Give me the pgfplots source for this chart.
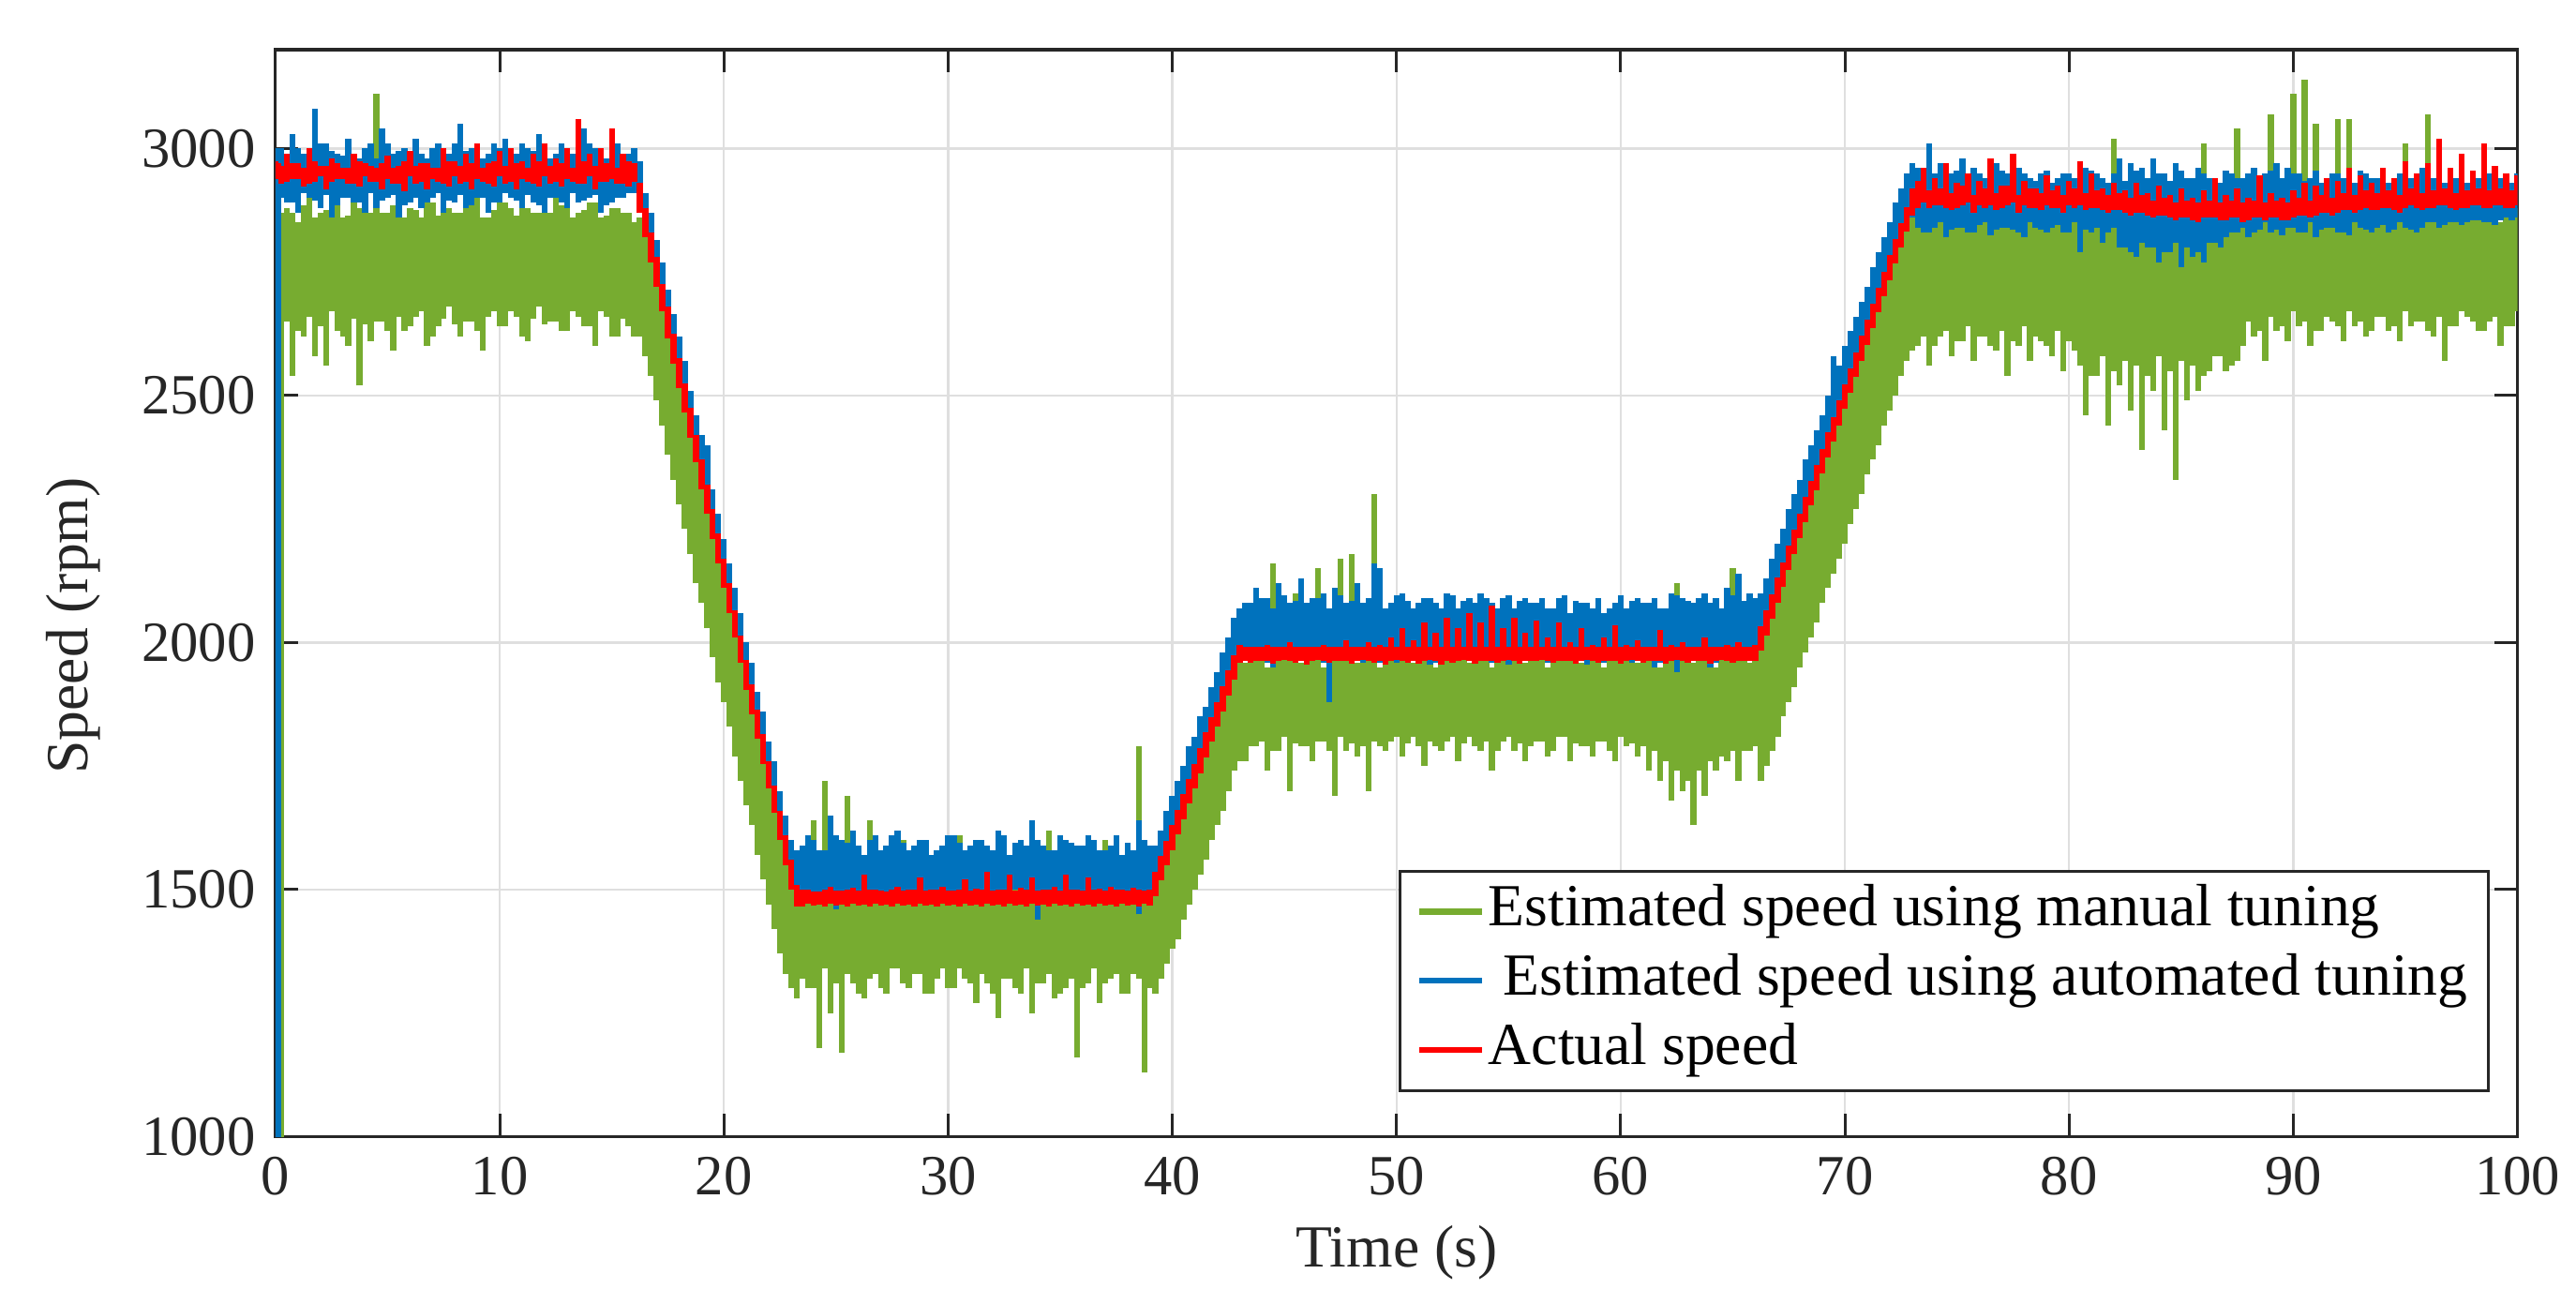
\documentclass[border=0pt]{standalone}
\usepackage{fontspec}
\setmainfont{Liberation Serif}
\usepackage{pgfplots}
\usepackage{pgfplotstable}
\pgfplotsset{compat=1.18}
\definecolor{mgreen}{RGB}{119,172,48}
\definecolor{mblue}{RGB}{0,114,189}
\definecolor{mred}{RGB}{255,0,0}
\definecolor{axgray}{RGB}{38,38,38}
\definecolor{gridgray}{RGB}{223,223,223}

% per 0.25 s bin: lowest and highest value of each signal (gl/gh manual, bl/bh automated, rl/rh actual)
\pgfplotstableread{
t gl gh bl bh rl rh
0 900 900 900 3000 2940 2975
0.12 900 900 900 2950 2938 2970
0.25 900 2870 2900 3000 2928 2965
0.5 2650 2880 2890 2990 2933 2990
0.75 2540 2870 2890 3030 2938 2970
1 2630 2850 2870 3000 2938 2970
1.25 2620 2885 2910 2990 2923 2960
1.5 2660 2900 2900 2980 2928 3000
1.75 2580 2860 2895 3080 2933 2975
2 2640 2870 2880 3010 2943 2965
2.25 2560 2875 2905 3010 2918 2965
2.5 2670 2890 2860 2995 2933 2980
2.75 2630 2890 2885 2990 2938 2970
3 2620 2860 2900 2985 2938 2960
3.25 2600 2865 2900 3020 2928 2960
3.5 2655 2910 2890 2990 2928 2990
3.75 2520 2880 2890 2980 2923 2975
4 2645 2880 2870 3000 2943 2970
4.25 2610 2870 2910 3010 2933 2965
4.5 2650 3110 2880 2980 2933 2960
4.75 2650 2870 2895 3040 2918 2970
5 2630 2870 2900 3010 2938 2985
5.25 2590 2885 2905 2990 2928 2960
5.5 2660 2900 2860 2995 2928 2965
5.75 2630 2860 2885 3000 2913 2975
6 2640 2880 2890 2985 2943 2995
6.25 2660 2875 2900 3020 2928 2965
6.5 2670 2860 2880 2990 2933 2970
6.75 2600 2890 2890 2980 2918 2970
7 2620 2890 2900 3000 2938 2960
7.25 2640 2865 2910 3010 2933 2960
7.5 2655 2910 2870 2980 2928 3000
7.75 2680 2880 2895 2990 2923 2975
8 2645 2870 2890 3010 2943 2975
8.25 2620 2870 2905 3050 2928 2965
8.5 2650 2880 2880 2995 2933 2990
8.75 2650 2885 2885 3000 2918 2970
9 2630 2900 2900 2985 2938 3010
9.25 2590 2860 2900 2980 2933 2960
9.5 2660 2860 2870 2990 2928 2970
9.75 2670 2875 2890 3010 2923 2975
10 2640 2890 2890 3000 2943 2995
10.25 2640 2890 2910 3020 2928 2965
10.5 2670 2880 2900 2980 2933 3000
10.75 2660 2865 2895 2990 2918 2970
11 2620 2910 2880 3010 2938 2975
11.25 2610 2880 2905 3000 2933 2960
11.5 2655 2870 2890 2995 2928 2990
11.75 2680 2870 2885 3030 2923 2975
12 2645 2890 2870 2985 2943 3010
12.25 2650 2870 2900 2980 2928 2965
12.5 2650 2900 2900 2990 2933 2980
12.75 2630 2885 2890 3010 2923 2970
13 2630 2880 2880 3000 2938 3000
13.25 2670 2860 2910 2990 2933 2960
13.5 2660 2870 2890 2980 2928 3060
13.75 2640 2875 2895 3040 2928 2975
14 2640 2890 2900 3010 2943 2990
14.25 2600 2890 2905 3000 2918 2965
14.5 2670 2860 2870 2995 2933 3000
14.75 2660 2865 2885 2980 2933 2970
15 2620 2880 2890 2985 2938 3040
15.25 2620 2880 2900 3010 2928 2960
15.5 2655 2870 2900 2990 2928 2990
15.75 2640 2870 2910 2990 2923 2975
16 2620 2850 2910 3000 2933 2970
16.25 2620 2860 2885 2975 2870 2930
16.5 2580 2830 2835 2910 2820 2880
16.75 2540 2790 2785 2870 2770 2830
17 2490 2735 2735 2815 2720 2780
17.25 2440 2690 2680 2770 2670 2725
17.5 2380 2640 2630 2715 2615 2680
17.75 2330 2585 2580 2665 2565 2625
18 2280 2535 2530 2620 2515 2575
18.25 2230 2520 2480 2570 2465 2525
18.5 2180 2430 2430 2510 2415 2475
18.75 2120 2385 2380 2460 2365 2420
19 2080 2330 2325 2420 2310 2370
19.25 2030 2285 2275 2400 2260 2320
19.5 1970 2240 2225 2310 2210 2270
19.75 1920 2180 2175 2260 2160 2220
20 1880 2130 2125 2210 2110 2170
20.25 1830 2080 2075 2160 2060 2120
20.5 1770 2030 2025 2110 2010 2065
20.75 1720 1980 1975 2060 1960 2015
21 1670 1945 1920 2000 1905 1965
21.25 1630 1880 1870 1960 1855 1915
21.5 1570 1830 1820 1900 1805 1865
21.75 1520 1790 1770 1860 1755 1815
22 1470 1745 1720 1800 1705 1760
22.25 1420 1680 1670 1760 1655 1710
22.5 1370 1650 1615 1700 1600 1660
22.75 1330 1590 1565 1650 1550 1610
23 1300 1560 1515 1600 1500 1560
23.25 1280 1520 1470 1580 1466 1510
23.5 1320 1560 1480 1590 1465 1500
23.75 1300 1540 1485 1610 1472 1500
24 1300 1640 1470 1600 1467 1496
24.25 1180 1555 1480 1580 1470 1496
24.5 1340 1720 1490 1580 1465 1500
24.75 1250 1530 1490 1650 1472 1505
25 1310 1600 1460 1610 1467 1498
25.25 1170 1560 1475 1600 1470 1498
25.5 1330 1690 1480 1595 1465 1500
25.75 1310 1545 1485 1620 1472 1503
26 1290 1560 1490 1590 1467 1498
26.25 1280 1535 1480 1570 1470 1530
26.5 1320 1640 1470 1600 1465 1500
26.75 1330 1540 1490 1610 1472 1500
27 1300 1580 1485 1580 1467 1498
27.25 1290 1555 1475 1590 1470 1496
27.5 1340 1540 1500 1610 1465 1500
27.75 1340 1530 1485 1620 1472 1505
28 1310 1600 1480 1595 1467 1498
28.25 1300 1560 1480 1580 1470 1500
28.5 1330 1550 1490 1590 1465 1500
28.75 1330 1545 1490 1600 1472 1525
29 1290 1580 1475 1600 1467 1498
29.25 1290 1535 1475 1570 1470 1500
29.5 1320 1530 1495 1580 1465 1500
29.75 1340 1540 1485 1590 1472 1505
30 1300 1560 1480 1610 1467 1498
30.25 1300 1555 1480 1610 1470 1498
30.5 1340 1610 1490 1595 1465 1500
30.75 1320 1530 1490 1580 1472 1520
31 1310 1540 1485 1590 1467 1498
31.25 1270 1560 1475 1600 1470 1502
31.5 1330 1590 1470 1600 1465 1500
31.75 1310 1545 1485 1590 1472 1535
32 1290 1550 1490 1580 1467 1498
32.25 1240 1535 1480 1620 1470 1500
32.5 1320 1600 1480 1610 1465 1500
32.75 1320 1540 1490 1570 1472 1530
33 1300 1560 1500 1595 1467 1498
33.25 1290 1555 1485 1600 1470 1504
33.5 1340 1530 1485 1590 1465 1500
33.75 1250 1530 1480 1640 1472 1525
34 1310 1580 1440 1600 1467 1498
34.25 1310 1560 1480 1590 1470 1500
34.5 1330 1620 1490 1580 1465 1500
34.75 1280 1545 1490 1580 1472 1505
35 1290 1560 1480 1610 1467 1498
35.25 1300 1535 1475 1600 1470 1530
35.5 1320 1540 1495 1595 1465 1500
35.75 1160 1540 1485 1590 1472 1500
36 1300 1590 1470 1590 1467 1498
36.25 1310 1560 1480 1610 1470 1525
36.5 1340 1550 1490 1600 1465 1500
36.75 1270 1530 1490 1580 1472 1502
37 1310 1600 1485 1580 1467 1498
37.25 1320 1555 1475 1590 1470 1505
37.5 1330 1560 1480 1610 1465 1500
37.75 1290 1545 1485 1570 1472 1500
38 1290 1580 1490 1595 1467 1498
38.25 1330 1535 1480 1580 1470 1504
38.5 1320 1790 1450 1640 1465 1500
38.75 1130 1540 1490 1600 1472 1498
39 1300 1560 1480 1590 1467 1500
39.25 1290 1500 1500 1590 1486 1536
39.5 1320 1530 1530 1620 1518 1568
39.75 1350 1560 1565 1660 1549 1599
40 1380 1600 1595 1690 1580 1630
40.25 1400 1625 1625 1720 1611 1661
40.5 1440 1660 1660 1750 1643 1693
40.75 1470 1690 1690 1790 1674 1724
41 1500 1720 1720 1810 1705 1755
41.25 1530 1750 1750 1850 1736 1786
41.5 1560 1790 1785 1870 1768 1818
41.75 1600 1820 1815 1910 1799 1849
42 1630 1870 1845 1940 1830 1880
42.25 1660 1880 1880 1980 1861 1911
42.5 1700 1960 1910 2010 1893 1943
42.75 1740 1940 1940 2050 1924 1974
43 1760 1970 1960 2070 1960 1995
43.25 1760 1960 1965 2080 1963 1992
43.5 1790 1980 1960 2080 1960 1992
43.75 1790 1975 1975 2110 1963 1992
44 1800 2000 1980 2090 1962 1992
44.25 1740 1950 1960 2090 1963 1995
44.5 1780 2160 1950 2070 1958 1992
44.75 1780 1985 1980 2120 1963 1992
45 1810 1990 1970 2095 1965 1992
45.25 1700 1965 1970 2080 1963 2000
45.5 1795 2100 1990 2085 1960 1992
45.75 1790 1960 1965 2130 1963 1992
46 1790 1970 1960 2080 1955 1992
46.25 1760 1975 1975 2090 1963 1992
46.5 1800 2150 1975 2090 1965 1992
46.75 1800 1950 1960 2100 1963 1995
47 1780 1990 1880 2070 1960 1992
47.25 1690 1985 1980 2110 1963 1992
47.5 1810 2170 1970 2095 1962 1992
47.75 1780 1965 1970 2080 1963 2005
48 1795 2180 1985 2085 1958 1992
48.25 1770 1960 1965 2120 1963 1992
48.5 1790 1990 1960 2080 1965 1992
48.75 1700 1975 1975 2090 1963 2000
49 1800 2300 1975 2160 1960 1992
49.25 1790 1950 1960 2150 1963 1995
49.5 1780 1980 1980 2070 1955 1992
49.75 1800 1985 1980 2080 1963 2010
50 1810 2010 1960 2095 1965 1992
50.25 1770 1965 1970 2100 1963 2030
50.5 1795 1990 1985 2085 1960 1992
50.75 1810 1960 1965 2070 1963 2005
51 1790 1980 1970 2080 1958 1992
51.25 1750 1975 1975 2090 1963 2040
51.5 1800 2000 1955 2090 1965 1992
51.75 1790 1950 1960 2080 1963 2020
52 1780 1970 1980 2070 1955 1992
52.25 1800 1985 1980 2100 1963 2050
52.5 1810 1990 1965 2095 1960 1992
52.75 1760 1965 1970 2070 1963 2030
53 1795 2000 1975 2085 1965 1992
53.25 1810 1960 1965 2090 1963 2060
53.5 1790 1980 1960 2080 1958 1992
53.75 1780 1975 1975 2100 1963 2040
54 1800 1990 1985 2090 1962 1992
54.25 1740 1950 1960 2080 1963 2075
54.5 1780 1970 1970 2070 1960 1992
54.75 1800 1985 1980 2090 1963 2030
55 1810 2010 1955 2095 1965 1992
55.25 1780 1965 1970 2070 1963 2050
55.5 1795 1990 1980 2085 1958 1992
55.75 1760 1960 1965 2090 1963 2020
56 1790 2020 1965 2080 1962 1992
56.25 1800 1975 1975 2080 1963 2045
56.5 1800 1980 1975 2090 1965 1992
56.75 1770 1950 1960 2070 1963 2010
57 1780 1990 1960 2070 1960 1992
57.25 1810 1985 1980 2090 1963 2040
57.5 1810 2000 1980 2095 1962 1992
57.75 1760 1965 1970 2060 1963 2000
58 1795 1980 1970 2085 1958 1992
58.25 1790 1960 1965 2080 1963 2030
58.5 1790 1990 1955 2080 1965 1992
58.75 1770 1975 1975 2070 1963 1995
59 1800 2000 1975 2090 1960 1992
59.25 1800 1950 1960 2060 1963 2010
59.5 1780 1980 1965 2070 1962 1992
59.75 1760 1985 1980 2080 1963 2035
60 1810 2010 1980 2095 1958 1992
60.25 1790 1965 1970 2070 1963 1995
60.5 1795 1990 1960 2085 1965 1992
60.75 1770 1960 1965 2090 1963 2005
61 1790 2000 1975 2080 1960 1992
61.25 1740 1975 1975 2080 1963 1992
61.5 1780 1980 1950 2090 1962 1992
61.75 1720 1950 1960 2070 1963 2025
62 1760 1990 1970 2070 1958 1992
62.25 1680 1965 1980 2100 1963 1995
62.5 1740 2120 1940 2095 1965 1992
62.75 1700 1985 1970 2090 1963 2000
63 1720 2060 1960 2085 1960 1992
63.25 1630 1960 1965 2080 1963 1992
63.5 1740 1990 1975 2090 1962 1992
63.75 1690 1975 1975 2100 1963 2010
64 1760 2000 1950 2080 1958 1992
64.25 1740 1950 1960 2090 1963 1992
64.5 1770 1980 1970 2070 1965 1992
64.75 1760 1985 1980 2110 1963 1995
65 1780 2150 1960 2095 1960 1992
65.25 1720 1965 1970 2140 1963 2000
65.5 1780 1990 1975 2085 1962 1992
65.75 1780 1960 1965 2100 1963 1992
66 1790 2000 1990 2090 1963 1995
66.25 1720 1990 2003 2100 1983 2033
66.5 1750 2025 2035 2130 2015 2065
66.75 1780 2060 2068 2170 2048 2098
67 1810 2090 2100 2200 2081 2131
67.25 1850 2130 2133 2230 2113 2163
67.5 1880 2160 2166 2270 2146 2196
67.75 1910 2190 2199 2300 2179 2229
68 1950 2220 2231 2330 2211 2261
68.25 1980 2330 2264 2370 2244 2294
68.5 2010 2290 2297 2400 2277 2327
68.75 2040 2320 2329 2430 2309 2359
69 2080 2350 2362 2460 2342 2392
69.25 2110 2385 2395 2500 2375 2425
69.5 2140 2420 2427 2580 2407 2457
69.75 2170 2450 2460 2560 2440 2490
70 2200 2560 2493 2600 2473 2523
70.25 2240 2515 2525 2630 2505 2555
70.5 2270 2550 2558 2660 2538 2588
70.75 2300 2580 2591 2690 2571 2621
71 2340 2610 2623 2720 2603 2653
71.25 2370 2645 2656 2760 2636 2686
71.5 2400 2680 2689 2790 2669 2719
71.75 2440 2710 2721 2820 2701 2751
72 2470 2745 2754 2850 2734 2784
72.25 2500 2775 2787 2890 2767 2817
72.5 2540 2810 2819 2920 2799 2849
72.75 2570 2845 2852 2950 2832 2882
73 2590 2870 2860 2970 2865 2920
73.25 2600 2860 2840 2960 2880 2935
73.5 2620 2870 2830 2940 2890 2960
73.75 2560 2875 2830 3010 2880 2915
74 2600 2880 2840 2950 2885 2940
74.25 2620 2850 2850 2970 2885 2920
74.5 2630 2860 2820 2935 2880 2970
74.75 2580 2880 2835 2950 2875 2910
75 2610 2890 2840 2955 2880 2930
75.25 2610 2865 2840 2980 2885 2925
75.5 2640 2870 2830 2940 2890 2950
75.75 2570 2860 2830 2960 2870 2905
76 2620 2880 2845 2950 2885 2935
76.25 2620 2875 2850 2940 2880 2920
76.5 2600 2860 2825 2935 2885 2980
76.75 2590 2850 2835 2970 2875 2910
77 2630 2890 2840 2955 2880 2925
77.25 2540 2880 2840 2950 2885 2925
77.5 2610 2870 2835 2940 2890 2990
77.75 2600 2865 2830 2960 2870 2905
78 2640 2880 2820 2950 2885 2935
78.25 2570 2860 2850 2940 2880 2920
78.5 2620 2860 2840 2935 2880 2920
78.75 2610 2875 2835 2950 2875 2910
79 2600 2890 2830 2955 2885 2945
79.25 2580 2850 2840 2930 2880 2915
79.5 2630 2870 2845 2940 2880 2925
79.75 2550 2880 2830 2950 2870 2905
80 2610 2880 2830 2950 2885 2935
80.25 2590 2865 2850 2940 2880 2920
80.5 2560 2870 2790 2935 2885 2975
80.75 2460 2860 2835 2960 2875 2910
81 2540 2890 2830 2955 2880 2950
81.25 2540 2875 2840 2950 2880 2915
81.5 2580 2860 2810 2940 2875 2920
81.75 2440 2850 2830 2930 2870 2905
82 2550 3020 2840 2950 2875 2930
82.25 2520 2880 2800 2980 2875 2910
82.5 2570 2870 2800 2935 2870 2915
82.75 2470 2865 2790 2970 2865 2900
83 2560 2880 2780 2955 2870 2930
83.25 2390 2860 2810 2960 2870 2905
83.5 2540 2860 2800 2940 2865 2910
83.75 2510 2875 2800 2980 2860 2895
84 2580 2890 2770 2950 2865 2925
84.25 2430 2850 2790 2950 2865 2900
84.5 2550 2870 2790 2935 2860 2905
84.75 2330 2880 2810 2970 2855 2890
85 2570 2880 2760 2955 2860 2920
85.25 2490 2865 2800 2940 2860 2895
85.5 2560 2860 2780 2940 2855 2900
85.75 2510 2860 2790 2960 2850 2890
86 2540 3010 2770 2950 2860 2915
86.25 2550 2875 2810 2940 2860 2895
86.5 2580 2870 2810 2935 2860 2940
86.75 2580 2850 2800 2930 2855 2890
87 2550 2890 2820 2955 2855 2905
87.25 2560 2880 2830 2950 2860 2895
87.5 2570 3040 2830 2940 2860 2920
87.75 2600 2865 2840 2940 2850 2890
88 2650 2880 2820 2950 2855 2900
88.25 2620 2860 2830 2960 2860 2895
88.5 2630 2900 2835 2935 2860 2945
88.75 2570 2875 2850 2950 2855 2890
89 2660 3070 2830 2955 2860 2910
89.25 2630 2850 2835 2970 2860 2895
89.5 2640 2890 2825 2940 2855 2900
89.75 2610 2880 2840 2960 2855 2890
90 2670 3110 2840 2950 2860 2915
90.25 2640 2865 2830 2950 2865 2900
90.5 2650 3140 2830 2935 2865 2930
90.75 2600 2860 2850 2940 2860 2895
91 2630 3050 2820 2955 2865 2925
91.25 2630 2875 2835 2930 2870 2905
91.5 2660 2880 2840 2940 2870 2940
91.75 2650 2850 2840 2950 2865 2900
92 2640 3060 2830 2950 2870 2935
92.25 2610 2880 2830 2940 2875 2910
92.5 2670 3060 2825 2935 2875 2960
92.75 2640 2865 2850 2930 2870 2905
93 2650 2890 2840 2955 2875 2945
93.25 2620 2860 2835 2950 2880 2915
93.5 2630 2900 2830 2940 2875 2930
93.75 2660 2875 2840 2940 2875 2910
94 2660 2880 2845 2950 2880 2960
94.25 2630 2850 2830 2930 2880 2915
94.5 2640 2890 2835 2935 2875 2940
94.75 2610 2880 2850 2950 2870 2905
95 2670 3010 2840 2955 2880 2975
95.25 2640 2865 2835 2940 2885 2920
95.5 2650 2900 2830 2940 2880 2950
95.75 2650 2860 2840 2960 2875 2910
96 2630 3070 2850 2950 2880 2970
96.25 2620 2875 2850 2940 2880 2915
96.5 2660 2890 2840 2935 2885 3020
96.75 2570 2850 2845 2930 2885 2920
97 2640 2900 2850 2955 2880 2960
97.25 2640 2880 2850 2940 2875 2910
97.5 2670 2880 2845 2940 2880 2990
97.75 2660 2865 2850 2930 2880 2915
98 2650 2900 2855 2950 2885 2955
98.25 2630 2860 2855 2940 2885 2920
98.5 2630 2890 2850 2935 2880 3010
98.75 2650 2875 2850 2950 2880 2915
99 2660 2910 2845 2955 2885 2965
99.25 2600 2850 2855 2940 2885 2920
99.5 2640 2890 2860 2940 2880 2950
99.75 2640 2880 2855 2930 2880 2915
100 2670 2880 2860 2950 2885 2945
}\speeddata

\begin{document}
\begin{tikzpicture}
\path[use as bounding box] (-48.5pt,-26.7pt) rectangle (404.9pt,200.05pt);
\begin{axis}[
  at={(0pt,0pt)}, anchor=south west,
  scale only axis, width=394.6pt, height=191.3pt,
  xmin=0, xmax=100, ymin=1000, ymax=3200,
  xtick={0,10,...,100}, ytick={1000,1500,...,3000},
  axis line style={axgray, line width=0.5pt},
  tick style={axgray, line width=0.5pt},
  major tick length=4pt,
  tick align=inside,
  grid=major,
  major grid style={gridgray, line width=0.4pt},
  ticklabel style={font=\fontsize{10}{12}\selectfont, text=axgray},
  /pgf/number format/assume math mode=true,
  /pgf/number format/1000 sep={},
  xlabel={Time (s)}, ylabel={Speed (rpm)},
  label style={font=\fontsize{10.5}{12}\selectfont, text=axgray},
  xlabel style={at={(axis description cs:0.5,0)}, anchor=base, yshift=-23pt},
  ylabel style={at={(axis description cs:-0.0836,0.47)}, anchor=base},
  legend cell align=left,
  legend style={at={(0.9875,0.041)}, anchor=south east, draw=axgray, line width=0.5pt,
    font=\fontsize{10.5}{12}\selectfont, inner xsep=3pt, inner ysep=1pt, row sep=0pt,
    nodes={inner sep=0.6pt, text height=8pt, text depth=3pt}},
  legend image code/.code={\draw[#1] (0pt,0pt) -- (11pt,0pt);},
]
\addlegendimage{mgreen, line width=1pt}
\addlegendentry{Estimated speed using manual tuning}
\addlegendimage{mblue, line width=1pt}
\addlegendentry{\ Estimated speed using automated tuning}
\addlegendimage{mred, line width=1pt}
\addlegendentry{Actual speed}

\addplot[forget plot, draw=none, mark=none,
  error bars/.cd, y dir=plus, y explicit, error mark=none,
  error bar style={draw=mgreen, line width=1.05pt}]
  table[x=t, y=gl, y error plus expr=\thisrow{gh}-\thisrow{gl}] {\speeddata};
\addplot[forget plot, draw=none, mark=none,
  error bars/.cd, y dir=plus, y explicit, error mark=none,
  error bar style={draw=mblue, line width=1.05pt}]
  table[x=t, y=bl, y error plus expr=\thisrow{bh}-\thisrow{bl}] {\speeddata};
\addplot[forget plot, draw=none, mark=none,
  error bars/.cd, y dir=plus, y explicit, error mark=none,
  error bar style={draw=mred, line width=1.05pt}]
  table[x=t, y=rl, y error plus expr=\thisrow{rh}-\thisrow{rl}] {\speeddata};
\end{axis}
\end{tikzpicture}
\end{document}
